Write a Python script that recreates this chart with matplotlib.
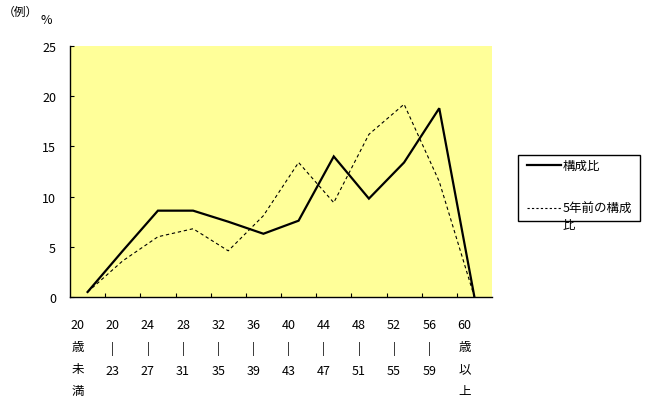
import matplotlib
matplotlib.use("Agg")
import matplotlib.pyplot as plt
import matplotlib.transforms as mtransforms
from matplotlib.lines import Line2D
from matplotlib.patches import Rectangle

plt.rcParams['font.family'] = ['Noto Sans CJK JP', 'DejaVu Sans']

categories = ["20\n歳\n未\n満", "20\n|\n23", "24\n|\n27", "28\n|\n31", "32\n|\n35",
              "36\n|\n39", "40\n|\n43", "44\n|\n47", "48\n|\n51", "52\n|\n55",
              "56\n|\n59", "60\n歳\n以\n上"]
current = [0.5, 4.6, 8.6, 8.6, 7.5, 6.3, 7.6, 14.0, 9.8, 13.4, 18.8, 0.0]
five_years_ago = [0.5, 3.6, 6.0, 6.8, 4.6, 8.1, 13.4, 9.4, 16.2, 19.2, 11.5, 0.0]
yticks = [0, 5, 10, 15, 20, 25]

fig = plt.figure(figsize=(6.5, 4.06), dpi=100)
ax = fig.add_axes([70/650, 1-298/406, 422/650, 251/406])
ax.set_facecolor('#FFFF99')

x = list(range(len(categories)))
ax.plot(x, current, color='black', lw=1.6, solid_joinstyle='miter')
ax.plot(x, five_years_ago, color='black', lw=0.8, dashes=(3, 2.5))

ax.set_xlim(-0.5, len(categories) - 0.5)
ax.set_ylim(0, 25)
ax.set_yticks(yticks)
ax.tick_params(axis='y', direction='in', length=3, pad=10, labelsize=9)
ax.set_xticks([i + 0.5 for i in x[:-1]], minor=False)
ax.set_xticklabels([])
ax.set_xticks(x, minor=True)
ax.set_xticklabels(categories, minor=True, fontsize=9, linespacing=1.9, va='top')
ax.tick_params(axis='x', which='major', direction='in', length=3)
ax.tick_params(axis='x', which='minor', length=0, pad=15)
offset = mtransforms.ScaledTranslation(-0.1, 0, fig.dpi_scale_trans)
for lab in ax.get_xticklabels(minor=True):
    lab.set_transform(lab.get_transform() + offset)

for s in ['top', 'right']:
    ax.spines[s].set_visible(False)
for s in ['left', 'bottom']:
    ax.spines[s].set_linewidth(1.0)

fig.text(3/650, 1-12/406, "（例）", fontsize=8.5, va='center', ha='left')
fig.text(46/650, 1-21/406, "%", fontsize=9, va='center', ha='center')

# legend box
fig.add_artist(Rectangle((518/650, 1-222/406), 122/650, 66/406, transform=fig.transFigure,
                         facecolor='white', edgecolor='black', lw=1.0))
fig.add_artist(Line2D([527/650, 561/650], [1-166/406, 1-166/406], transform=fig.transFigure,
                      color='black', lw=1.6))
fig.text(563/650, 1-166/406, "構成比", fontsize=9, va='center', ha='left')
fig.add_artist(Line2D([527/650, 561/650], [1-209/406, 1-209/406], transform=fig.transFigure,
                      color='black', lw=0.8, dashes=(2, 2)))
fig.text(563/650, 1-209/406, "5年前の構成", fontsize=9, va='center', ha='left')
fig.text(563/650, 1-226/406, "比", fontsize=9, va='center', ha='left')

fig.savefig("out.png", dpi=100)
